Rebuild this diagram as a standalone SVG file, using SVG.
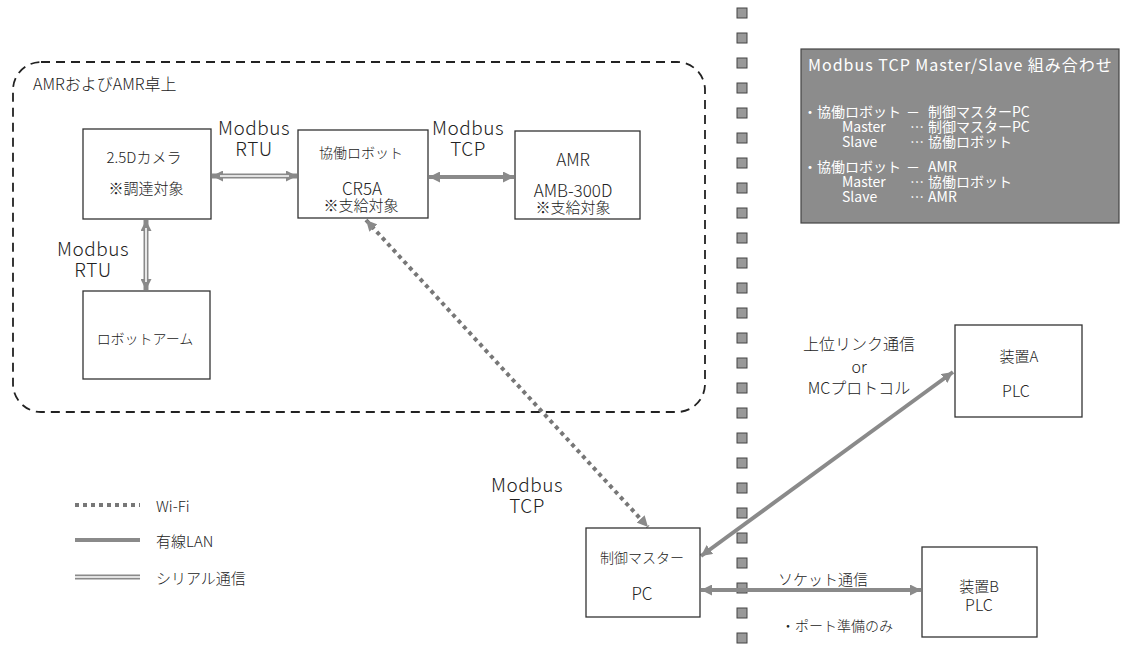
<svg xmlns="http://www.w3.org/2000/svg" width="1132" height="661" viewBox="0 0 1132 661">
<defs>
<style>
text{font-family:"Noto Sans CJK JP","Noto Sans",sans-serif;fill:#222;font-weight:300}
.box{fill:#fff;stroke:#333;stroke-width:1.3}
.c{text-anchor:middle;dominant-baseline:central}
.t14{font-size:14px}
.t15{font-size:15px}
.t16{font-size:16px}
.t17{font-size:17px}
.lbl{font-size:19px;text-anchor:middle;dominant-baseline:central;letter-spacing:0.5px}
.wt{font-size:14px;fill:#fff;dominant-baseline:central;font-weight:400}
.serialO{stroke:#8a8a8a;stroke-width:5;fill:none}
.serialI{stroke:#fff;stroke-width:1.6;fill:none}
.lan{stroke:#8a8a8a;stroke-width:4;fill:none}
.wifi{stroke:#777;stroke-width:4;stroke-dasharray:4 4;fill:none}
.div{fill:#999;stroke:#444;stroke-width:1}
</style>
<marker id="ah" viewBox="0 0 10 10" refX="10" refY="5" markerWidth="11" markerHeight="11" markerUnits="userSpaceOnUse" orient="auto-start-reverse">
<path d="M0,0 L10,5 L0,10 z" fill="#8a8a8a"/>
</marker>
</defs>
<rect width="1132" height="661" fill="#fff"/>

<g id="region">
<rect x="13" y="62" width="692" height="350" rx="28" fill="none" stroke="#222" stroke-width="1.8" stroke-dasharray="9 6"/>
<text class="t16" x="33" y="83" style="dominant-baseline:central">AMRおよびAMR卓上</text>
</g>

<g id="divider">
<rect class="div" x="737" y="8" width="10" height="10"/><rect class="div" x="737" y="33" width="10" height="10"/><rect class="div" x="737" y="58" width="10" height="10"/><rect class="div" x="737" y="83" width="10" height="10"/><rect class="div" x="737" y="108" width="10" height="10"/><rect class="div" x="737" y="133" width="10" height="10"/><rect class="div" x="737" y="158" width="10" height="10"/><rect class="div" x="737" y="183" width="10" height="10"/><rect class="div" x="737" y="208" width="10" height="10"/><rect class="div" x="737" y="233" width="10" height="10"/><rect class="div" x="737" y="258" width="10" height="10"/><rect class="div" x="737" y="283" width="10" height="10"/><rect class="div" x="737" y="308" width="10" height="10"/><rect class="div" x="737" y="333" width="10" height="10"/><rect class="div" x="737" y="358" width="10" height="10"/><rect class="div" x="737" y="383" width="10" height="10"/><rect class="div" x="737" y="408" width="10" height="10"/><rect class="div" x="737" y="433" width="10" height="10"/><rect class="div" x="737" y="458" width="10" height="10"/><rect class="div" x="737" y="483" width="10" height="10"/><rect class="div" x="737" y="508" width="10" height="10"/><rect class="div" x="737" y="533" width="10" height="10"/><rect class="div" x="737" y="558" width="10" height="10"/><rect class="div" x="737" y="583" width="10" height="10"/><rect class="div" x="737" y="608" width="10" height="10"/><rect class="div" x="737" y="633" width="10" height="10"/>
</g>

<g id="connectors">
<line class="serialO" x1="212" y1="176" x2="297" y2="176" marker-start="url(#ah)" marker-end="url(#ah)"/>
<line class="serialI" x1="220" y1="176" x2="289" y2="176"/>
<line class="serialO" x1="146" y1="220" x2="146" y2="290" marker-start="url(#ah)" marker-end="url(#ah)"/>
<line class="serialI" x1="146" y1="228" x2="146" y2="282"/>
<line class="lan" x1="429" y1="177" x2="514" y2="177" marker-start="url(#ah)" marker-end="url(#ah)"/>
<line class="wifi" x1="366" y1="220" x2="648" y2="527" marker-start="url(#ah)" marker-end="url(#ah)"/>
<line class="lan" x1="701" y1="556" x2="953" y2="372" marker-start="url(#ah)" marker-end="url(#ah)"/>
<line class="lan" x1="701" y1="590" x2="921" y2="590" marker-start="url(#ah)" marker-end="url(#ah)"/>
</g>

<g id="labels">
<text class="lbl" x="254" y="126">Modbus</text>
<text class="lbl" x="254" y="147">RTU</text>
<text class="lbl" x="93" y="247">Modbus</text>
<text class="lbl" x="93" y="268">RTU</text>
<text class="lbl" x="468" y="126">Modbus</text>
<text class="lbl" x="468" y="147">TCP</text>
<text class="lbl" x="527" y="483">Modbus</text>
<text class="lbl" x="527" y="504">TCP</text>
<text class="c t16" x="859" y="343">上位リンク通信</text>
<text class="c t16" x="859" y="366">or</text>
<text class="c t16" x="859" y="387">MCプロトコル</text>
<text class="c t15" x="823" y="578">ソケット通信</text>
<text class="c t14" x="837" y="625">・ポート準備のみ</text>
</g>

<g id="camera">
<rect class="box" x="83" y="129" width="128" height="90"/>
<text class="c t15" x="144" y="156">2.5Dカメラ</text>
<text class="c t15" x="146" y="187">※調達対象</text>
</g>

<g id="robot">
<rect class="box" x="298" y="130" width="130" height="88"/>
<text class="c t14" x="361" y="152">協働ロボット</text>
<text class="c t17" x="362" y="187">CR5A</text>
<text class="c t15" x="361" y="204">※支給対象</text>
</g>

<g id="amr">
<rect class="box" x="515" y="131" width="125" height="88"/>
<text class="c t17" x="573" y="158">AMR</text>
<text class="c t17" x="573" y="189">AMB-300D</text>
<text class="c t15" x="573" y="206">※支給対象</text>
</g>

<g id="arm">
<rect class="box" x="83" y="291" width="127" height="88"/>
<text class="c t14" x="145" y="338">ロボットアーム</text>
</g>

<g id="pc">
<rect class="box" x="586" y="528" width="114" height="89"/>
<text class="c t14" x="642" y="557">制御マスター</text>
<text class="c t17" x="642" y="592">PC</text>
</g>

<g id="deviceA">
<rect class="box" x="955" y="325" width="127" height="92"/>
<text class="c t15" x="1019" y="355">装置A</text>
<text class="c t16" x="1016" y="390">PLC</text>
</g>

<g id="deviceB">
<rect class="box" x="922" y="547" width="115" height="90"/>
<text class="c t15" x="979" y="585">装置B</text>
<text class="c t16" x="979" y="604">PLC</text>
</g>

<g id="note">
<rect x="801" y="49" width="318" height="174" fill="#8c8c8c" stroke="#444" stroke-width="1.2"/>
<text class="wt" x="808" y="64" style="font-size:16px;letter-spacing:1px">Modbus TCP  Master/Slave 組み合わせ</text>
<text class="wt" x="803" y="111">・協働ロボット</text>
<text class="wt" x="906" y="111">－</text>
<text class="wt" x="928" y="111">制御マスターPC</text>
<text class="wt" x="842" y="126">Master</text>
<text class="wt" x="910" y="126">⋯</text>
<text class="wt" x="928" y="126">制御マスターPC</text>
<text class="wt" x="842" y="141">Slave</text>
<text class="wt" x="910" y="141">⋯</text>
<text class="wt" x="928" y="141">協働ロボット</text>
<text class="wt" x="803" y="166">・協働ロボット</text>
<text class="wt" x="906" y="166">－</text>
<text class="wt" x="928" y="166">AMR</text>
<text class="wt" x="842" y="181">Master</text>
<text class="wt" x="910" y="181">⋯</text>
<text class="wt" x="928" y="181">協働ロボット</text>
<text class="wt" x="842" y="196">Slave</text>
<text class="wt" x="910" y="196">⋯</text>
<text class="wt" x="928" y="196">AMR</text>
</g>

<g id="legend">
<line class="wifi" x1="75" y1="505" x2="140" y2="505"/>
<text class="t15" x="156" y="505" style="dominant-baseline:central">Wi-Fi</text>
<line class="lan" x1="75" y1="540" x2="140" y2="540"/>
<text class="t15" x="156" y="540" style="dominant-baseline:central">有線LAN</text>
<line class="serialO" x1="75" y1="577" x2="140" y2="577"/>
<line class="serialI" x1="75" y1="577" x2="140" y2="577"/>
<text class="t15" x="156" y="577" style="dominant-baseline:central">シリアル通信</text>
</g>
</svg>
